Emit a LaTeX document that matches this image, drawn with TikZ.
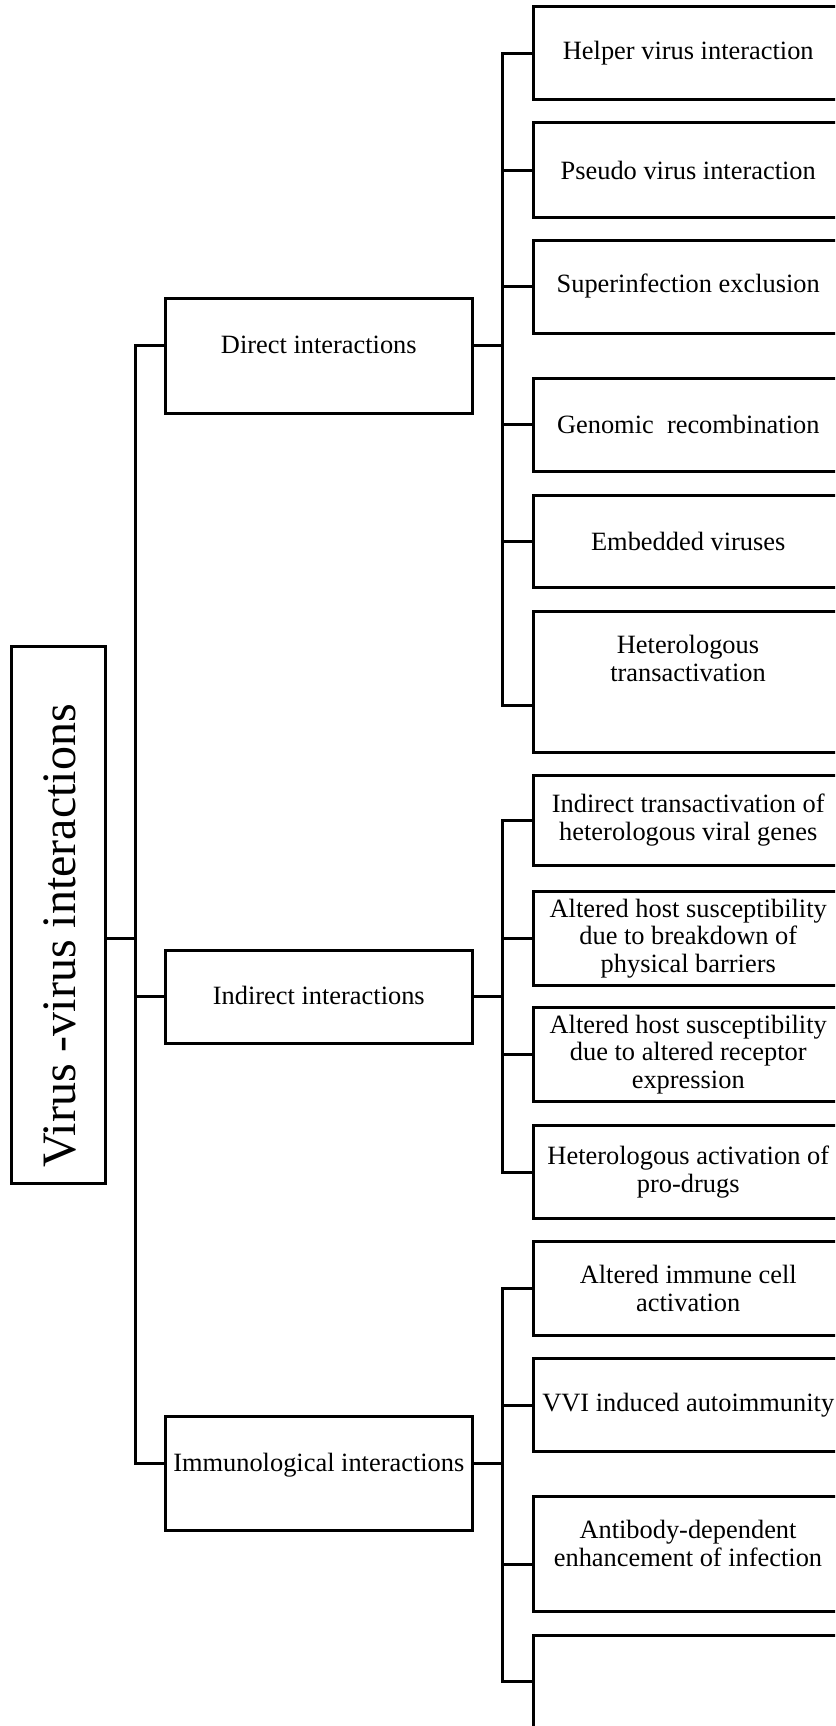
\documentclass[tikz,border=0pt]{standalone}
\usepackage{fontspec}
\setmainfont{Liberation Serif}
\begin{document}
\begin{tikzpicture}[x=1pt,y=-1pt,
  ln/.style={line width=3pt},
  bx/.style={draw, line width=3pt, rectangle, inner sep=0pt, outer sep=0pt},
  rbox/.style={bx, minimum width=309.5pt, align=center, font=\fontsize{26.4}{27.5}\selectfont},
  mbox/.style={bx, minimum width=306.4pt},
  txt/.style={inner sep=0pt, align=center, font=\fontsize{26.4}{27.5}\selectfont}
]
\useasboundingbox (0,0) rectangle (835,1726);
\begin{scope}
\clip (0,0) rectangle (835,1726);
% root
\node[bx, minimum width=93.3pt, minimum height=537pt] (root) at (58.35,914.5) {};
\node[inner sep=0pt, rotate=90, anchor=base, font=\fontsize{48}{50}\selectfont] (roott) at (75,936) {Virus -virus interactions};
% middle level
\node[mbox, minimum height=115pt] (dir) at (318.8,355.5) {};
\node[txt, anchor=base] (dirt) at (318.8,353.7) {Direct interactions};
\node[mbox, minimum height=93pt] (ind) at (318.8,996.5) {};
\node[txt, anchor=base] (indt) at (318.8,1004.7) {Indirect interactions};
\node[mbox, minimum height=114pt] (imm) at (318.8,1473.7) {};
\node[txt, anchor=base] (immt) at (318.8,1471.7) {Immunological interactions};
% right level
\node[rbox, minimum height=93.3pt] (r1) at (688.25,53.35) {Helper virus interaction};
\node[rbox, minimum height=94pt] (r2) at (688.25,170) {Pseudo virus interaction};
\node[rbox, minimum height=93pt] (r3) at (688.25,286.5) {Superinfection exclusion};
\node[rbox, minimum height=93.7pt] (r4) at (688.25,424.85) {Genomic\ \ recombination};
\node[rbox, minimum height=92.7pt] (r5) at (688.25,541.35) {Embedded viruses};
\node[rbox, minimum height=140.3pt] (r6) at (688.25,681.85) {};
\node[txt] (r6t) at (688,658.3) {Heterologous\\transactivation};
\node[rbox, minimum height=90pt] (r7) at (688.25,820) {Indirect transactivation of\\heterologous viral genes};
\node[rbox, minimum height=93.3pt] (r8) at (688.25,938.35) {Altered host susceptibility\\due to breakdown of\\physical barriers};
\node[rbox, minimum height=93.3pt] (r9) at (688.25,1054.35) {Altered host susceptibility\\due to altered receptor\\expression};
\node[rbox, minimum height=92.6pt] (r10) at (688.25,1172) {Heterologous activation of\\pro-drugs};
\node[rbox, minimum height=93.3pt] (r11) at (688.25,1288.35) {Altered immune cell\\activation};
\node[rbox, minimum height=93.4pt] (r12) at (688.25,1405) {VVI induced autoimmunity};
\node[rbox, minimum height=115pt] (r13) at (688.25,1554.2) {};
\node[txt] (r13t) at (688,1543.3) {Antibody-dependent\\enhancement of infection};
\node[rbox, minimum height=125pt] (r14) at (688.25,1697.5) {};
% junction coordinates
\coordinate (lbx) at (135.5,0);
\coordinate (dbx) at (502,0);
\coordinate (cr) at (0,938.5);
\coordinate (cd) at (0,345.3);
\coordinate (ci) at (0,996);
\coordinate (cm) at (0,1463);
\coordinate (j6) at (502,705);
\coordinate (j13) at (502,1564.3);
\coordinate (j14) at (502,1681);
% left bus
\draw[ln] (root.east |- cr) -- (lbx |- cr);
\draw[ln] (dir.west |- cd) -- (lbx |- cd) -- (lbx |- cm) -- (imm.west |- cm);
\draw[ln] (lbx |- ci) -- (ind.west |- ci);
% middle to right buses
\draw[ln] (dir.east |- cd) -- (dbx |- cd);
\draw[ln] (ind.east |- ci) -- (dbx |- ci);
\draw[ln] (imm.east |- cm) -- (dbx |- cm);
% direct children
\draw[ln] (r1.west) -- (r1.west -| dbx) -- (j6) -- (j6 -| r6.west);
\foreach \n in {r2,r3,r4,r5} \draw[ln] (\n.west -| dbx) -- (\n.west);
% indirect children
\draw[ln] (r7.west) -- (r7.west -| dbx) -- (r10.west -| dbx) -- (r10.west);
\foreach \n in {r8,r9} \draw[ln] (\n.west -| dbx) -- (\n.west);
% immunological children
\draw[ln] (r11.west) -- (r11.west -| dbx) -- (j14) -- (j14 -| r14.west);
\draw[ln] (r12.west -| dbx) -- (r12.west);
\draw[ln] (j13) -- (j13 -| r13.west);
\end{scope}
\end{tikzpicture}
\end{document}
